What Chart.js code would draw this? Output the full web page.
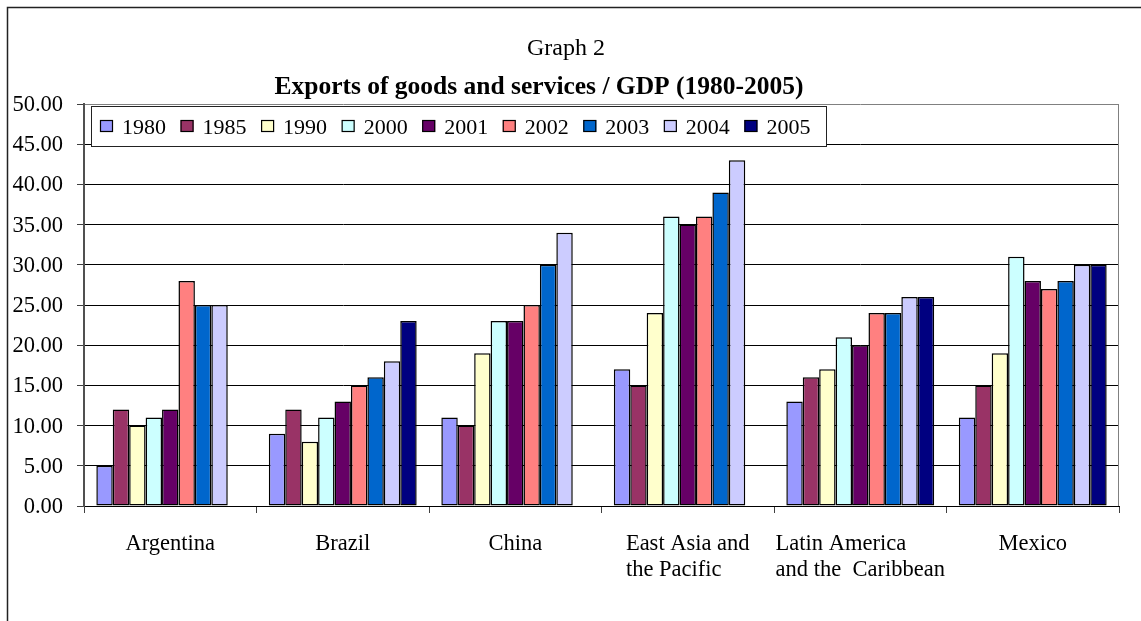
<!DOCTYPE html>
<html>
<head>
<meta charset="utf-8">
<script src="https://cdn.jsdelivr.net/npm/chart.js@4/dist/chart.umd.min.js"></script>
<style>
  html, body { margin: 0; padding: 0; background: #fff; overflow: hidden; }
  canvas { display: block; }
</style>
</head>
<body>
<canvas id="c" width="1141" height="621"></canvas>
<script>
// Categories (multi-line labels use \n)
const categories = ['Argentina', 'Brazil', 'China', 'East Asia and\nthe Pacific', 'Latin America\nand the  Caribbean', 'Mexico'];
const years = ['1980', '1985', '1990', '2000', '2001', '2002', '2003', '2004', '2005'];

// Exports of goods and services as % of GDP, one array per year
const v1980 = [5, 9, 11, 17, 13, 11];
const v1985 = [12, 12, 10, 15, 16, 15];
const v1990 = [10, 8, 19, 24, 17, 19];
const v2000 = [11, 11, 23, 36, 21, 31];
const v2001 = [12, 13, 23, 35, 20, 28];
const v2002 = [28, 15, 25, 36, 24, 27];
const v2003 = [25, 16, 30, 39, 24, 28];
const v2004 = [25, 18, 34, 43, 26, 30];
const v2005 = [null, 23, null, null, 26, 30];

const yTicks = [0, 5, 10, 15, 20, 25, 30, 35, 40, 45, 50];

const colors = ['#9999FF', '#993366', '#FFFFCC', '#CCFFFF', '#660066', '#FF8080', '#0066CC', '#CCCCFF', '#000080'];
const series = [v1980, v1985, v1990, v2000, v2001, v2002, v2003, v2004, v2005];

const SERIF = '"Liberation Serif", "Times New Roman", serif';

function text(ctx, str, x, y, font, align, baseline) {
  ctx.save();
  ctx.font = font;
  ctx.fillStyle = '#000';
  ctx.textAlign = align || 'left';
  ctx.textBaseline = baseline || 'alphabetic';
  ctx.fillText(str, x, y);
  ctx.restore();
}
function textWidth(ctx, str, font) {
  ctx.save();
  ctx.font = font;
  const w = ctx.measureText(str).width;
  ctx.restore();
  return w;
}

const decor = {
  id: 'decor',
  beforeDraw(chart) {
    const ctx = chart.ctx;
    ctx.save();
    ctx.fillStyle = '#fff';
    ctx.fillRect(0, 0, chart.width, chart.height);
    // outer frame
    ctx.strokeStyle = '#222';
    ctx.lineWidth = 1.5;
    ctx.beginPath();
    ctx.moveTo(7.5, chart.height + 2);
    ctx.lineTo(7.5, 7.5);
    ctx.lineTo(chart.width + 2, 7.5);
    ctx.stroke();
    ctx.restore();
    // titles
    text(ctx, 'Graph 2', 566, 55, '24px ' + SERIF, 'center');
    text(ctx, 'Exports of goods and services / GDP (1980-2005)', 539, 94, 'bold 25.5px ' + SERIF, 'center');
  },
  afterDraw(chart) {
    const ctx = chart.ctx;
    const area = chart.chartArea;
    const xs = chart.scales.x, ys = chart.scales.y;
    // plot area right edge
    ctx.save();
    ctx.strokeStyle = '#808080';
    ctx.lineWidth = 1;
    ctx.beginPath();
    ctx.moveTo(Math.round(area.right) - 0.5, area.top);
    ctx.lineTo(Math.round(area.right) - 0.5, area.bottom);
    ctx.stroke();
    ctx.restore();

    // y tick labels
    const tickFont = '22.5px ' + SERIF;
    yTicks.forEach(v => {
      text(ctx, v.toFixed(2), 63, ys.getPixelForValue(v) + 1, tickFont, 'right', 'middle');
    });

    // category labels: block centred under each group, lines left-aligned
    const catFont = '22.5px ' + SERIF;
    categories.forEach((c, i) => {
      const lines = c.split('\n');
      const cx = xs.getPixelForValue(i);
      const w = Math.max(...lines.map(l => textWidth(ctx, l, catFont)));
      const left = cx - w / 2;
      lines.forEach((l, j) => text(ctx, l, left, 550 + j * 26, catFont, 'left'));
    });

    // legend box
    const lx = 91, ly = 106, lw = 735, lh = 40;
    ctx.save();
    ctx.fillStyle = '#fff';
    ctx.fillRect(lx, ly, lw, lh);
    ctx.strokeStyle = '#222';
    ctx.lineWidth = 1;
    ctx.strokeRect(lx + 0.5, ly + 0.5, lw, lh);
    ctx.restore();
    const legFont = '22px ' + SERIF;
    chart.data.datasets.forEach((ds, i) => {
      const mx = 100 + i * 80.55;
      ctx.save();
      ctx.fillStyle = ds.backgroundColor;
      ctx.fillRect(mx, 120, 13, 12);
      ctx.strokeStyle = '#000';
      ctx.lineWidth = 1.2;
      ctx.strokeRect(mx + 0.5, 120.5, 12, 11);
      ctx.restore();
      text(ctx, ds.label, mx + 22, 134, legFont, 'left');
    });
  }
};

const datasets = years.map((y, i) => ({
  label: y,
  data: series[i],
  backgroundColor: colors[i],
  borderColor: '#000',
  borderWidth: 1.5,
  borderSkipped: false,
  categoryPercentage: 9 / 10.5,
  barPercentage: 1.0
}));

new Chart(document.getElementById('c'), {
  type: 'bar',
  data: { labels: categories, datasets },
  plugins: [decor],
  options: {
    responsive: false,
    animation: false,
    layout: { padding: { top: 104, left: 0, right: 22, bottom: 0 } },
    plugins: { legend: { display: false }, title: { display: false }, tooltip: { enabled: false } },
    scales: {
      x: {
        afterFit(s) { s.height = 115; },
        ticks: { display: false },
        grid: { display: true, offset: true, drawOnChartArea: false, drawTicks: true, tickLength: 7, tickColor: '#404040', lineWidth: 1 },
        border: { display: true, color: '#000', width: 1 }
      },
      y: {
        min: 0, max: 50,
        afterFit(s) { s.width = 84; },
        afterBuildTicks(s) { s.ticks = yTicks.map(v => ({ value: v })); },
        ticks: { display: false },
        grid: {
          color: ctx => (ctx.tick && ctx.tick.value === 50 ? '#808080' : '#000'),
          lineWidth: 1,
          drawTicks: true,
          tickLength: 7,
          tickColor: '#404040'
        },
        border: { display: true, color: '#505050', width: 2 }
      }
    }
  }
});
</script>
</body>
</html>
